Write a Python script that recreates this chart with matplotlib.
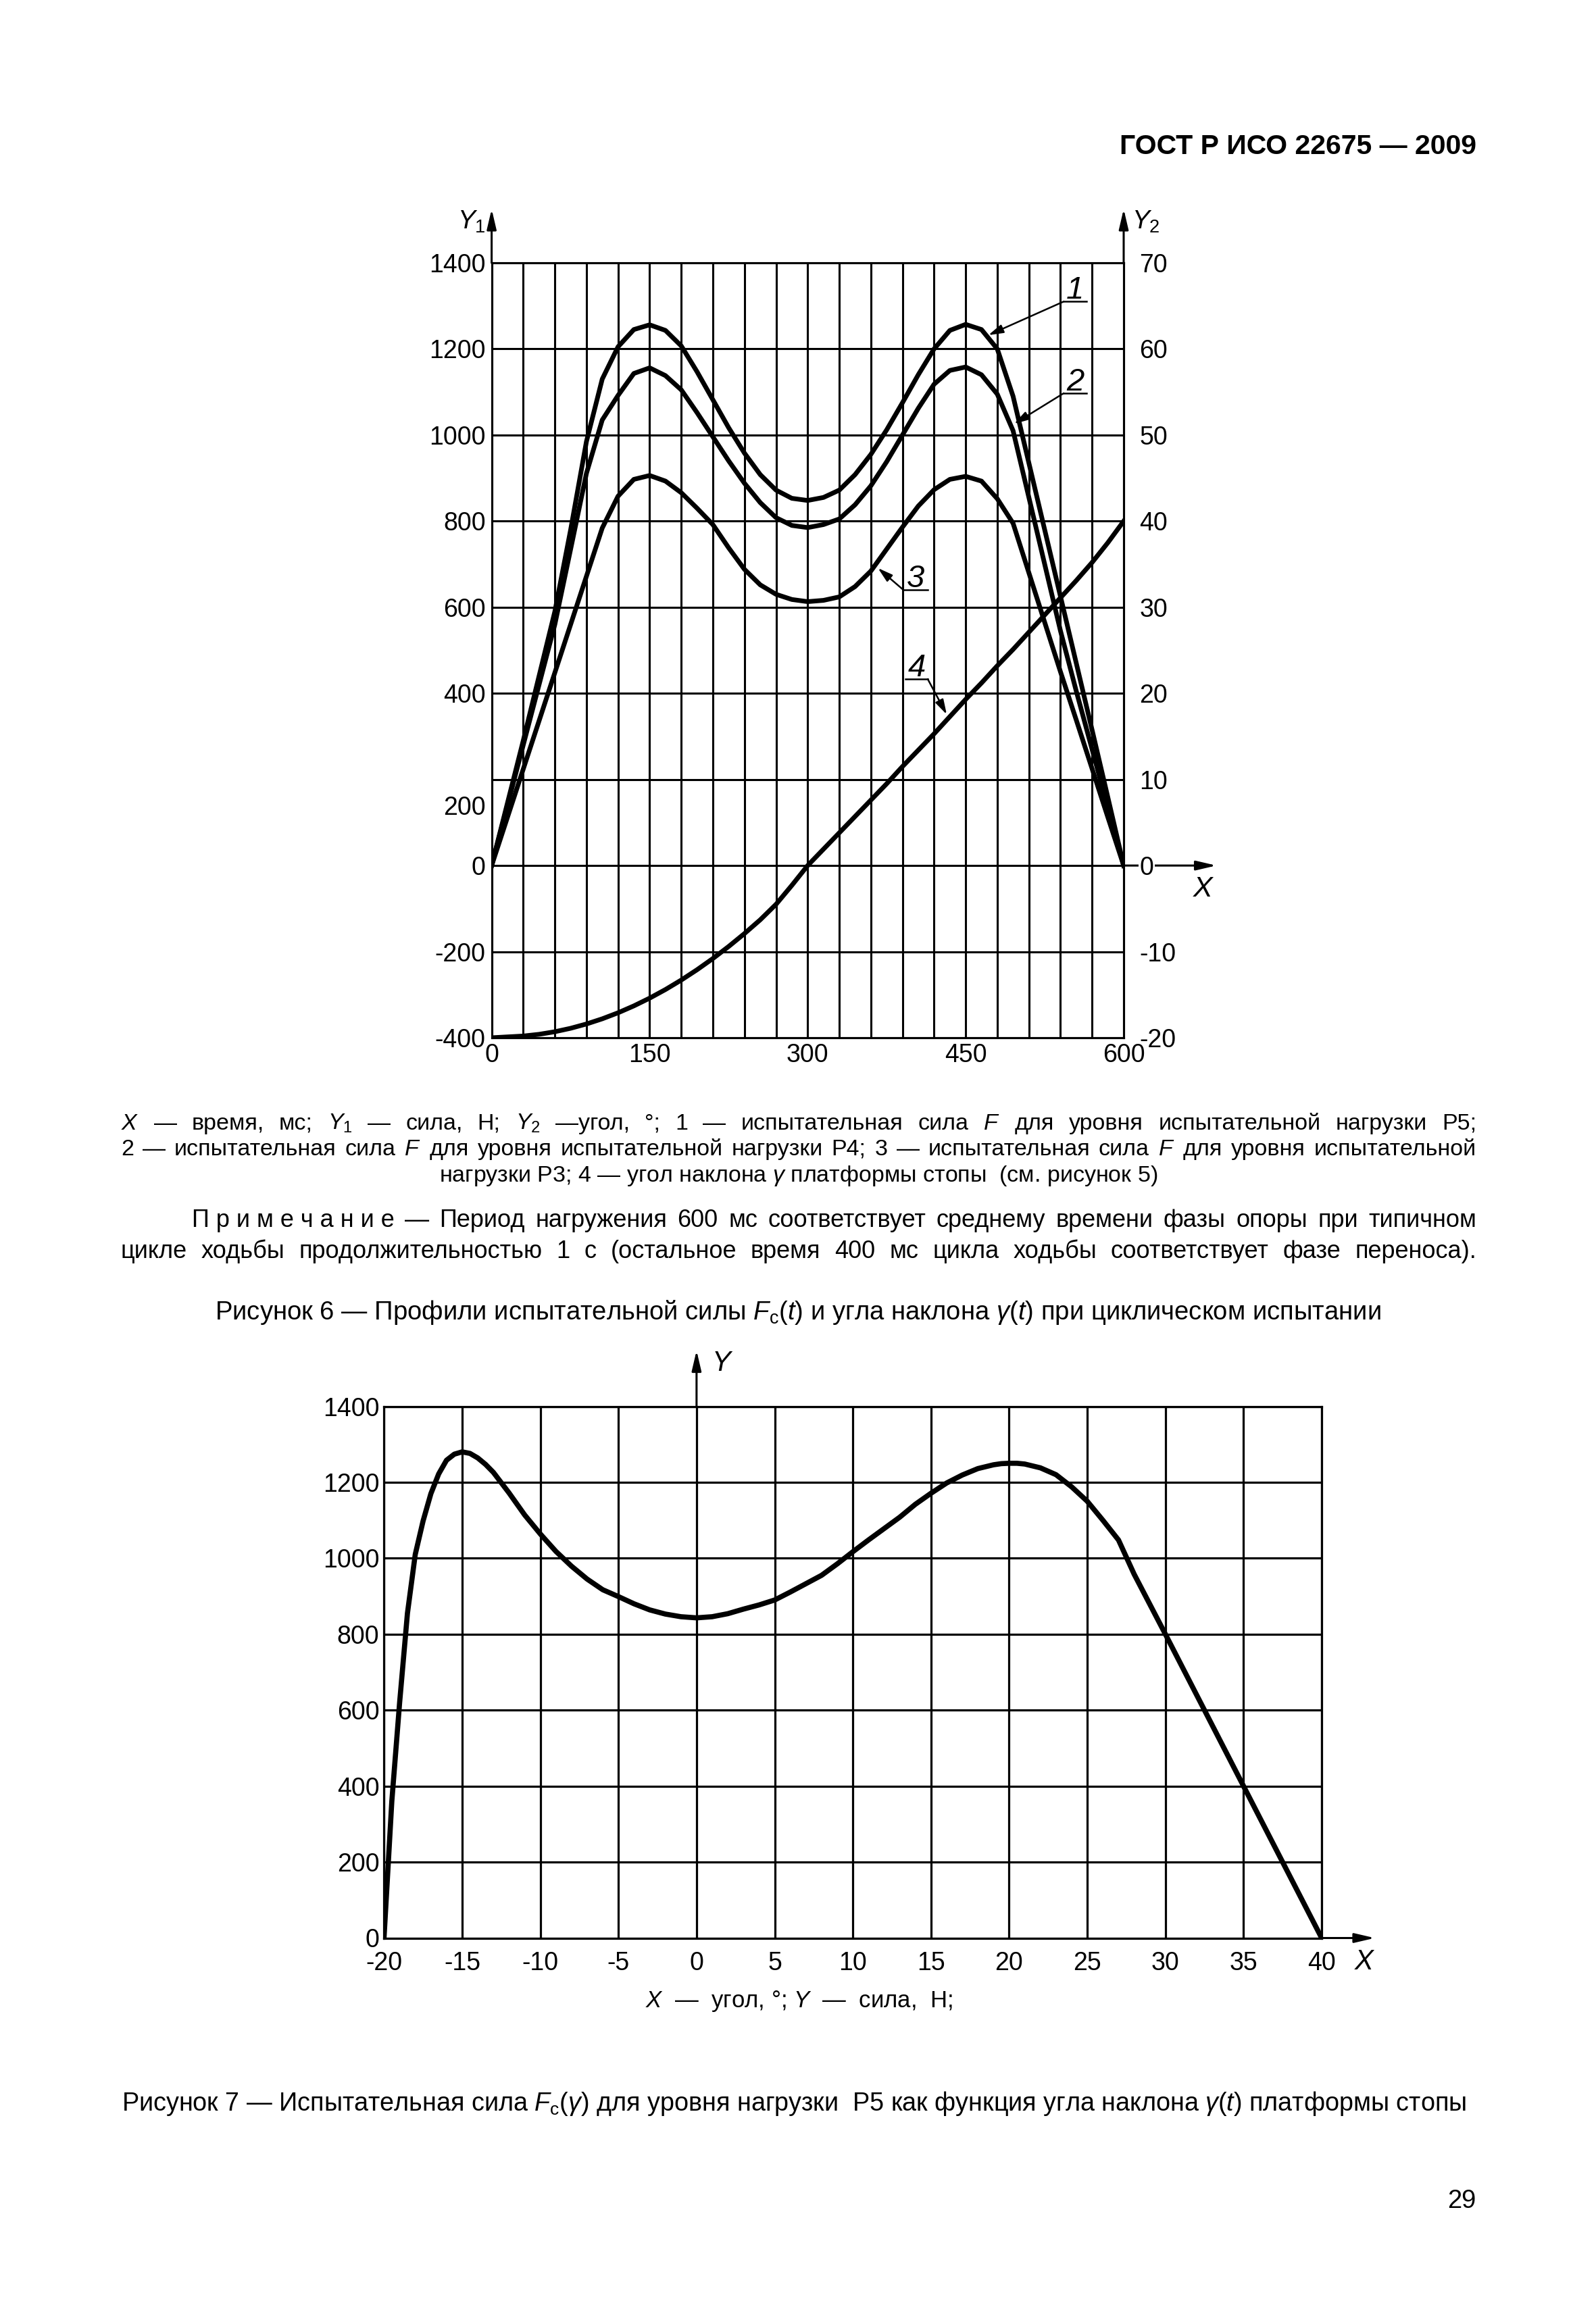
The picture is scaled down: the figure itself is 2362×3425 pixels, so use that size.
import numpy as np
import matplotlib
matplotlib.use("Agg")
from matplotlib import pyplot as plt

plt.rcParams['font.family'] = ['Liberation Sans', 'DejaVu Sans']
plt.rcParams['mathtext.fontset'] = 'custom'
plt.rcParams['mathtext.rm'] = 'Liberation Sans'
plt.rcParams['mathtext.it'] = 'Liberation Sans:italic'
plt.rcParams['mathtext.bf'] = 'Liberation Sans:bold'
plt.rcParams['axes.unicode_minus'] = False

W, H = 2362, 3425

# Рисунок 6: сила (Н) и угол (°) от времени (мс)
time_ms = list(range(0, 601, 15))
force_p5 = [0, 145, 290, 440, 590, 780, 985, 1130, 1205, 1245, 1256, 1243, 1207, 1147,
            1082, 1017, 958, 908, 872, 853, 848, 855, 872, 908, 955, 1012, 1075, 1140,
            1200, 1243, 1257, 1245, 1200, 1090, 935, 780, 625, 470, 315, 158, 0]
force_p4 = [0, 140, 280, 420, 560, 735, 911, 1035, 1092, 1143, 1156, 1138, 1105, 1052,
            996, 940, 888, 843, 808, 790, 785, 792, 805, 838, 882, 938, 1000, 1062,
            1118, 1150, 1158, 1140, 1095, 1010, 855, 700, 545, 405, 270, 135, 0]
force_p3 = [0, 112, 224, 336, 448, 560, 672, 784, 858, 897, 906, 893, 866, 830,
            792, 738, 688, 652, 630, 618, 613, 616, 624, 648, 684, 735, 786, 835,
            873, 897, 904, 893, 852, 795, 680, 565, 450, 338, 225, 112, 0]
tilt_deg = [-20, -19.9, -19.8, -19.6, -19.3, -18.9, -18.4, -17.8, -17.1, -16.3, -15.4,
            -14.4, -13.3, -12.1, -10.8, -9.4, -7.9, -6.3, -4.5, -2.3, 0, 1.9, 3.8, 5.7,
            7.6, 9.5, 11.5, 13.4, 15.3, 17.3, 19.3, 21.2, 23.2, 25.1, 27.1, 29.1, 31.1,
            33.1, 35.2, 37.5, 40]
time_ticks = [0, 150, 300, 450, 600]
force_ticks = [-400, -200, 0, 200, 400, 600, 800, 1000, 1200, 1400]
angle_ticks = [-20, -10, 0, 10, 20, 30, 40, 50, 60, 70]

# Рисунок 7: сила (Н) от угла наклона (°)
angle_deg = [-20, -19.5, -19, -18.5, -18, -17.5, -17, -16.5, -16, -15.5, -15, -14.5, -14,
             -13.5, -13, -12, -11, -10, -9, -8, -7, -6, -5, -4, -3, -2, -1, 0, 1, 2, 3, 4,
             5, 6, 7, 8, 9, 10, 11, 12, 13, 14, 15, 16, 17, 18, 19, 19.5, 20, 20.5, 21, 22,
             23, 24, 25, 26, 27, 28, 30, 32.5, 35, 37.5, 40]
force_angle = [0, 360, 620, 855, 1010, 1098, 1170, 1222, 1258, 1274, 1280, 1276, 1264,
               1247, 1226, 1172, 1114, 1064, 1018, 979, 945, 917, 899, 880, 864, 853, 846,
               843, 846, 854, 866, 877, 890, 911, 933, 955, 985, 1017, 1048, 1078, 1108,
               1142, 1171, 1198, 1219, 1236, 1246, 1249, 1250, 1250, 1248, 1238, 1220,
               1188, 1150, 1100, 1048, 958, 800, 600, 400, 200, 0]
angle_ticks7 = list(range(-20, 41, 5))
force_ticks7 = list(range(0, 1401, 200))

fig = plt.figure(figsize=(W / 100, H / 100), dpi=100)
fig.patch.set_facecolor('white')

GRID_LW = 2.2
TICK_FS = 27
arrow_kw = dict(arrowstyle='-|>,head_length=0.6,head_width=0.14', color='k',
                lw=GRID_LW, mutation_scale=30, shrinkA=0, shrinkB=0)
leader_kw = dict(arrowstyle='-|>,head_length=0.55,head_width=0.16', color='k',
                 lw=1.8, mutation_scale=24, shrinkA=0, shrinkB=0)


def page_text(px, py, s, **kw):
    return fig.text(px / W, 1 - py / H, s, **kw)


def justified(tokens, x_left, x_right, y_base, size):
    texts = [page_text(x_left, y_base, tok, fontsize=size, va='baseline') for tok in tokens]
    renderer = fig.canvas.get_renderer()
    widths = [t.get_window_extent(renderer).width for t in texts]
    gap = (x_right - x_left - sum(widths)) / (len(texts) - 1)
    x = x_left
    for t, w in zip(texts, widths):
        t.set_x(x / W)
        x += w + gap


# ---------------- Рисунок 6 ----------------
ax1 = fig.add_axes([727.6 / W, 1 - 1536 / H, 935.4 / W, 1147 / H])
ax1.set_xlim(0, 600)
ax1.set_ylim(-400, 1400)
ax1.set_xticks(time_ticks, labels=[str(v) for v in time_ticks])
ax1.set_xticks(np.arange(0, 601, 30), minor=True)
ax1.set_yticks(force_ticks, labels=['' if v == 200 else str(v) for v in force_ticks])
ax1.grid(True, which='both', axis='x', color='k', lw=GRID_LW)
ax1.grid(True, which='major', axis='y', color='k', lw=GRID_LW)
ax1.tick_params(which='both', length=0, labelsize=TICK_FS)
ax1.tick_params(axis='x', pad=6)
ax1.tick_params(axis='y', pad=6.5)
for sp in ax1.spines.values():
    sp.set_linewidth(GRID_LW)

for series in (force_p5, force_p4, force_p3):
    ax1.plot(time_ms, series, color='k', lw=5, solid_joinstyle='round', zorder=3)

# подпись "200" в оригинале смещена ниже своей линии сетки
ax1.annotate('200', xy=(0, 134), xytext=(-6.5, 0), textcoords='offset points',
             ha='right', va='center', fontsize=TICK_FS, annotation_clip=False)

ax2 = ax1.twinx()
ax2.set_ylim(-20, 70)
ax2.set_yticks(angle_ticks, labels=[str(v) for v in angle_ticks])
ax2.tick_params(length=0, labelsize=TICK_FS, pad=17)
for sp in ax2.spines.values():
    sp.set_linewidth(GRID_LW)
ax2.plot(time_ms, tilt_deg, color='k', lw=5, solid_joinstyle='round', zorder=3)
for lab in ax2.get_yticklabels():
    if lab.get_text() == '0':
        lab.set_bbox(dict(facecolor='white', edgecolor='none', pad=1))

# оси со стрелками
ax1.annotate('', xy=(0, 1525), xytext=(0, 1400), arrowprops=arrow_kw, annotation_clip=False)
ax1.annotate('', xy=(600, 1525), xytext=(600, 1400), arrowprops=arrow_kw, annotation_clip=False)
ax1.annotate('', xy=(688, 0), xytext=(600, 0), arrowprops=arrow_kw, annotation_clip=False,
             zorder=0)
ax1.text(-19, 1495, r'$\mathit{Y}_{1}$', ha='center', va='center', fontsize=28, clip_on=False)
ax1.text(621, 1495, r'$\mathit{Y}_{2}$', ha='center', va='center', fontsize=28, clip_on=False)
ax1.text(675, -55, 'X', style='italic', ha='center', va='center', fontsize=31, clip_on=False)

# выноски кривых
callouts = [
    ('1', (543, 565, 1310), (471.5, 1232)),
    ('2', (543, 565, 1097), (496, 1026)),
    ('3', (391, 414, 640), (366.7, 691)),
    ('4', (393, 414, 433), (432, 351)),
]
for num, (xa, xb, yl), tip in callouts:
    ax1.plot([xa, xb], [yl, yl], color='k', lw=1.8, clip_on=False, zorder=4)
    ax1.text((xa + xb) / 2, yl + 7, num, style='italic', ha='center', va='baseline',
             fontsize=34, zorder=4)
    start = (xb, yl) if num == '4' else (xa, yl)
    ax1.annotate('', xy=tip, xytext=start, arrowprops=leader_kw, zorder=4)

# ---------------- Рисунок 7 ----------------
ax3 = fig.add_axes([568.3 / W, 1 - 2868.5 / H, 1387.7 / W, 787 / H])
ax3.set_xlim(-20, 40)
ax3.set_ylim(0, 1400)
ax3.set_xticks(angle_ticks7, labels=[str(v) for v in angle_ticks7])
ax3.set_yticks(force_ticks7, labels=[str(v) for v in force_ticks7])
ax3.grid(True, color='k', lw=2.3)
ax3.tick_params(length=0, labelsize=TICK_FS)
ax3.tick_params(axis='x', pad=14)
ax3.tick_params(axis='y', pad=5)
for sp in ax3.spines.values():
    sp.set_linewidth(2.3)
ax3.plot(angle_deg, force_angle, color='k', lw=5.5, solid_joinstyle='round',
         solid_capstyle='round', zorder=3)
ax3.annotate('', xy=(0, 1547), xytext=(0, 1400), arrowprops=arrow_kw, annotation_clip=False)
ax3.annotate('', xy=(43.4, 0), xytext=(40, 0), arrowprops=arrow_kw, annotation_clip=False)
ax3.text(1.0, 1513, 'Y', style='italic', ha='left', va='center', fontsize=30, clip_on=False)
ax3.text(42.7, -64, 'X', style='italic', ha='center', va='center', fontsize=30, clip_on=False)

# ---------------- тексты страницы ----------------
page_text(2185, 228, 'ГОСТ Р ИСО 22675 — 2009', fontsize=29.5, fontweight='bold',
          ha='right', va='baseline')

legend1 = [r'$\mathit{X}$', '—', 'время,', 'мс;', r'$\mathit{Y}_{1}$', '—', 'сила,', 'Н;',
           r'$\mathit{Y}_{2}$', '—угол,', '°;', r'$\mathit{1}$', '—', 'испытательная',
           'сила', r'$\mathit{F}$', 'для', 'уровня', 'испытательной', 'нагрузки', 'Р5;']
legend2 = [r'$\mathit{2}$', '—', 'испытательная', 'сила', r'$\mathit{F}$', 'для', 'уровня',
           'испытательной', 'нагрузки', 'Р4;', r'$\mathit{3}$', '—', 'испытательная', 'сила',
           r'$\mathit{F}$', 'для', 'уровня', 'испытательной']
justified(legend1, 179, 2185, 1672, 24.5)
justified(legend2, 179, 2185, 1710, 24.5)
page_text(1182, 1749, r'нагрузки Р3; $\mathit{4}$ — угол наклона $\gamma$ платформы стопы  (см. рисунок 5)',
          fontsize=24.5, ha='center', va='baseline')

note1 = ['П р и м е ч а н и е', '—', 'Период', 'нагружения', '600', 'мс', 'соответствует',
         'среднему', 'времени', 'фазы', 'опоры', 'при', 'типичном']
note2 = 'цикле ходьбы продолжительностью 1 с (остальное время 400 мс цикла ходьбы ' \
        'соответствует фазе переноса).'
justified(note1, 284, 2185, 1816, 26)
justified(note2.split(), 179, 2185, 1862, 26)

page_text(1181, 1953, r'Рисунок 6 — Профили испытательной силы $\mathit{F}_{\mathrm{c}}(\mathit{t})$'
          r' и угла наклона $\gamma(\mathit{t})$ при циклическом испытании',
          fontsize=27.5, ha='center', va='baseline')
page_text(1182, 2971, r'$\mathit{X}$  —  угол, °; $\mathit{Y}$  —  сила,  Н;',
          fontsize=25, ha='center', va='baseline')
page_text(1175, 3124, r'Рисунок 7 — Испытательная сила $\mathit{F}_{\mathrm{c}}(\gamma)$ для уровня'
          r' нагрузки  Р5 как функция угла наклона $\gamma(\mathit{t})$ платформы стопы',
          fontsize=27.2, ha='center', va='baseline')
page_text(2185, 3268, '29', fontsize=27.5, ha='right', va='baseline')

fig.savefig('out.png', dpi=100, facecolor='white')
